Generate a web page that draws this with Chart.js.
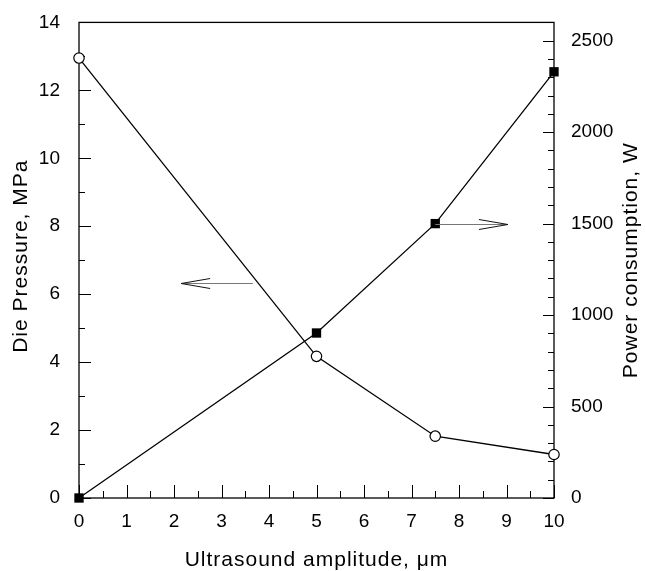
<!DOCTYPE html>
<html>
<head>
<meta charset="utf-8">
<script src="https://cdn.jsdelivr.net/npm/chart.js@4.4.1/dist/chart.umd.min.js"></script>
<style>
  html, body { margin: 0; padding: 0; background: #fff; }
  #wrap { width: 646px; height: 571px; }
</style>
</head>
<body>
<div id="wrap"><canvas id="chart" width="646" height="571"></canvas></div>
<script>
// values
const amplitude = [0, 5, 7.5, 10];
const diePressure = [12.95, 4.17, 1.82, 1.28];   // MPa, left axis
const powerUse = [0, 902, 1500, 2330];           // W, right axis

const xTicks = [0, 1, 2, 3, 4, 5, 6, 7, 8, 9, 10];
const pressureTicks = [0, 2, 4, 6, 8, 10, 12, 14];
const powerTicks = [0, 500, 1000, 1500, 2000, 2500];

const xTitle = 'Ultrasound amplitude, \u03bcm';
const leftTitle = 'Die Pressure, MPa';
const rightTitle = 'Power consumption, W';

// arrows pointing each curve to its axis (data units)
const pressureArrow = { axis: 'y', from: [3.66, 6.34], to: [2.15, 6.34] };
const powerArrow = { axis: 'y1', from: [7.5, 1500], to: [9.03, 1500] };

const FONT = '"Liberation Sans", Arial, sans-serif';

// frame, inward tick marks, rotated titles and the two arrows
const decorations = {
    id: 'decorations',
    beforeDatasetsDraw(chart) {
        const { ctx, chartArea: a, scales } = chart;
        ctx.save();
        ctx.strokeStyle = '#000';
        ctx.lineWidth = 1.3;
        ctx.strokeRect(a.left, a.top, a.right - a.left, a.bottom - a.top);

        ctx.lineWidth = 1;
        const tick = (x1, y1, x2, y2) => {
            ctx.beginPath();
            ctx.moveTo(x1, y1);
            ctx.lineTo(x2, y2);
            ctx.stroke();
        };
        // minor ticks = subdivisions between major ones
        const minors = (majors, parts, max) => {
            const step = (majors[1] - majors[0]) / parts;
            const out = [];
            for (let v = majors[0] + step; v < max - 1e-9; v += step) {
                if (Math.abs(v / (step * parts) - Math.round(v / (step * parts))) > 1e-6) out.push(v);
            }
            return out;
        };
        const x = scales.x, y = scales.y, y1 = scales.y1;
        xTicks.forEach(v => { const p = Math.round(x.getPixelForValue(v)) + 0.5; tick(p, a.bottom, p, a.bottom - 13); });
        minors(xTicks, 2, x.max).forEach(v => { const p = Math.round(x.getPixelForValue(v)) + 0.5; tick(p, a.bottom, p, a.bottom - 7); });
        pressureTicks.forEach(v => { const p = Math.round(y.getPixelForValue(v)) + 0.5; tick(a.left, p, a.left + 12, p); });
        minors(pressureTicks, 2, y.max).forEach(v => { const p = Math.round(y.getPixelForValue(v)) + 0.5; tick(a.left, p, a.left + 6, p); });
        powerTicks.forEach(v => { const p = Math.round(y1.getPixelForValue(v)) + 0.5; tick(a.right, p, a.right - 11, p); });
        minors(powerTicks, 5, y1.max).forEach(v => { const p = Math.round(y1.getPixelForValue(v)) + 0.5; tick(a.right, p, a.right - 6, p); });
        ctx.restore();
    },
    afterDatasetsDraw(chart) {
        const { ctx, chartArea: a, scales } = chart;
        ctx.save();
        [pressureArrow, powerArrow].forEach(arr => {
            const ys = scales[arr.axis];
            const x0 = scales.x.getPixelForValue(arr.from[0]);
            const x1 = scales.x.getPixelForValue(arr.to[0]);
            const yy = Math.round(ys.getPixelForValue(arr.from[1])) + 0.5;
            const dir = Math.sign(x1 - x0);
            ctx.strokeStyle = '#777';
            ctx.lineWidth = 1;
            ctx.beginPath();
            ctx.moveTo(x0, yy);
            ctx.lineTo(x1, yy);
            ctx.stroke();
            ctx.strokeStyle = '#111';
            ctx.beginPath();
            ctx.moveTo(x1 - dir * 29, yy - 5);
            ctx.lineTo(x1, yy);
            ctx.lineTo(x1 - dir * 29, yy + 5);
            ctx.stroke();
        });

        ctx.fillStyle = '#000';
        ctx.font = '21px ' + FONT;
        ctx.letterSpacing = '1px';
        ctx.textAlign = 'center';
        ctx.textBaseline = 'alphabetic';
        const midY = (a.top + a.bottom) / 2;
        ctx.fillText(xTitle, (a.left + a.right) / 2, 566);

        ctx.save();
        ctx.translate(27, midY - 4);
        ctx.rotate(-Math.PI / 2);
        ctx.fillText(leftTitle, 0, 0);
        ctx.restore();

        ctx.save();
        ctx.translate(637, midY);
        ctx.rotate(-Math.PI / 2);
        ctx.fillText(rightTitle, 0, 0);
        ctx.restore();
        ctx.restore();
    }
};

const tickFont = { family: FONT, size: 19 };
const plain = v => String(v);

new Chart(document.getElementById('chart'), {
    type: 'scatter',
    data: {
        datasets: [
            {
                label: 'Power consumption',
                data: amplitude.map((a, i) => ({ x: a, y: powerUse[i] })),
                yAxisID: 'y1',
                showLine: true,
                borderColor: '#000',
                borderWidth: 1.3,
                pointStyle: 'rect',
                pointRadius: 6.6,
                pointBackgroundColor: '#000',
                pointBorderColor: '#000',
                pointBorderWidth: 0,
                clip: false
            },
            {
                label: 'Die Pressure',
                data: amplitude.map((a, i) => ({ x: a, y: diePressure[i] })),
                yAxisID: 'y',
                showLine: true,
                borderColor: '#000',
                borderWidth: 1.3,
                pointStyle: 'circle',
                pointRadius: 5.2,
                pointBackgroundColor: '#fff',
                pointBorderColor: '#000',
                pointBorderWidth: 1.2,
                clip: false
            }
        ]
    },
    options: {
        responsive: false,
        animation: false,
        devicePixelRatio: 1,
        layout: { padding: { top: 21, left: 0, right: 0, bottom: 0 } },
        plugins: {
            legend: { display: false },
            tooltip: { enabled: false }
        },
        scales: {
            x: {
                type: 'linear',
                min: 0,
                max: 10,
                grid: { display: false },
                border: { display: false },
                afterBuildTicks: s => { s.ticks = xTicks.map(v => ({ value: v })); },
                afterFit: s => { s.height = 73; },
                ticks: { font: tickFont, color: '#000', padding: 4, maxRotation: 0, callback: plain }
            },
            y: {
                position: 'left',
                min: 0,
                max: 14,
                grid: { display: false },
                border: { display: false },
                afterBuildTicks: s => { s.ticks = pressureTicks.map(v => ({ value: v })); },
                afterFit: s => { s.width = 79; },
                ticks: { font: tickFont, color: '#000', padding: 11, callback: plain }
            },
            y1: {
                position: 'right',
                min: 0,
                max: 2600,
                grid: { display: false },
                border: { display: false },
                afterBuildTicks: s => { s.ticks = powerTicks.map(v => ({ value: v })); },
                afterFit: s => { s.width = 92; },
                ticks: { font: tickFont, color: '#000', padding: 9, callback: plain }
            }
        }
    },
    plugins: [decorations]
});
</script>
</body>
</html>
